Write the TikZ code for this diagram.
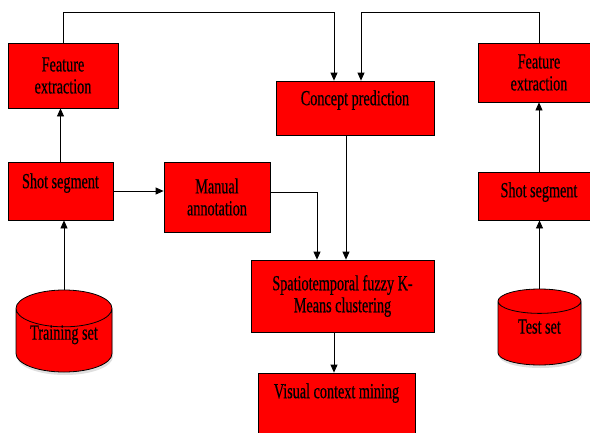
\documentclass[tikz,border=0pt]{standalone}
\usepackage{fontspec}
\newfontfamily\boxfont[FakeStretch=0.66,FakeBold=0.4]{Liberation Serif}
\usetikzlibrary{arrows.meta,shapes.geometric,shadows}

\tikzset{
	box/.style={draw=black, line width=0.8pt, fill=red, align=center, inner sep=3pt,
		font=\boxfont\fontsize{21.5}{22}\selectfont},
	store/.style={box, cylinder, shape border rotate=90, aspect=0.5, anchor=shape center,
		drop shadow={shadow xshift=1pt, shadow yshift=-3pt, opacity=0.25}},
	flow/.style={draw=black, line width=0.8pt, -{Triangle[length=8pt,width=7pt]}}
}

\begin{document}
\begin{tikzpicture}[x=1pt,y=-1pt]
		\useasboundingbox (0,0) rectangle (590,432);
		\clip (0,0) rectangle (590,432);

		% training side
		\node[box, minimum width=110pt, minimum height=65pt] (fe1) at (63,75.5) {Feature\\extraction};
		\node[box, minimum width=105pt, minimum height=58pt, text depth=20.5pt] (ss1) at (60.5,191) {Shot segment};
		\node[store, minimum width=96pt, minimum height=82pt, text height=6pt, text depth=14pt] (train) at (64,331) {Training set};
		\node[box, minimum width=106pt, minimum height=70pt] (ma) at (217,197) {Manual\\annotation};

		% middle
		\node[box, minimum width=158pt, minimum height=54pt, text depth=20.5pt] (cp) at (355,108) {Concept prediction};
		\node[box, minimum width=183pt, minimum height=72pt] (stk) at (342.5,296) {Spatiotemporal fuzzy K-\\Means clustering};
		\node[box, minimum width=157pt, minimum height=60pt, text depth=24.5pt] (vcm) at (336.5,403) {Visual context mining};

		% test side
		\node[box, minimum width=122pt, minimum height=59pt] (fe2) at (539,72.5) {Feature\\extraction};
		\node[box, minimum width=122pt, minimum height=48pt, text depth=12.5pt] (ss2) at (539,196) {Shot segment};
		\node[store, minimum width=83pt, minimum height=76pt, text height=7.5pt, text depth=11.5pt] (test) at (539.5,327) {Test set};

		\draw[flow] (train.north) -- (train.north |- ss1.south);
		\draw[flow] (ss1.north) -- (ss1.north |- fe1.south);
		\draw[flow] (ss1.east) -- (ss1.east -| ma.west);
		\draw[flow] (fe1.north) -- ++(0,-30) -| ([xshift=-21pt]cp.north);
		\draw[flow] (fe2.north) -- ++(0,-30) -| ([xshift=6pt]cp.north);
		\draw[flow] ([yshift=5pt]ma.east) -| ([xshift=-25.5pt]stk.north);
		\draw[flow] ([xshift=-9pt]cp.south) -- ([xshift=-9pt]cp.south |- stk.north);
		\draw[flow] ([xshift=-8.5pt]stk.south) -- ([xshift=-8.5pt]stk.south |- vcm.north);
		\draw[flow] (test.north) -- (test.north |- ss2.south);
		\draw[flow] (ss2.north) -- (ss2.north |- fe2.south);

	\end{tikzpicture}
\end{document}
